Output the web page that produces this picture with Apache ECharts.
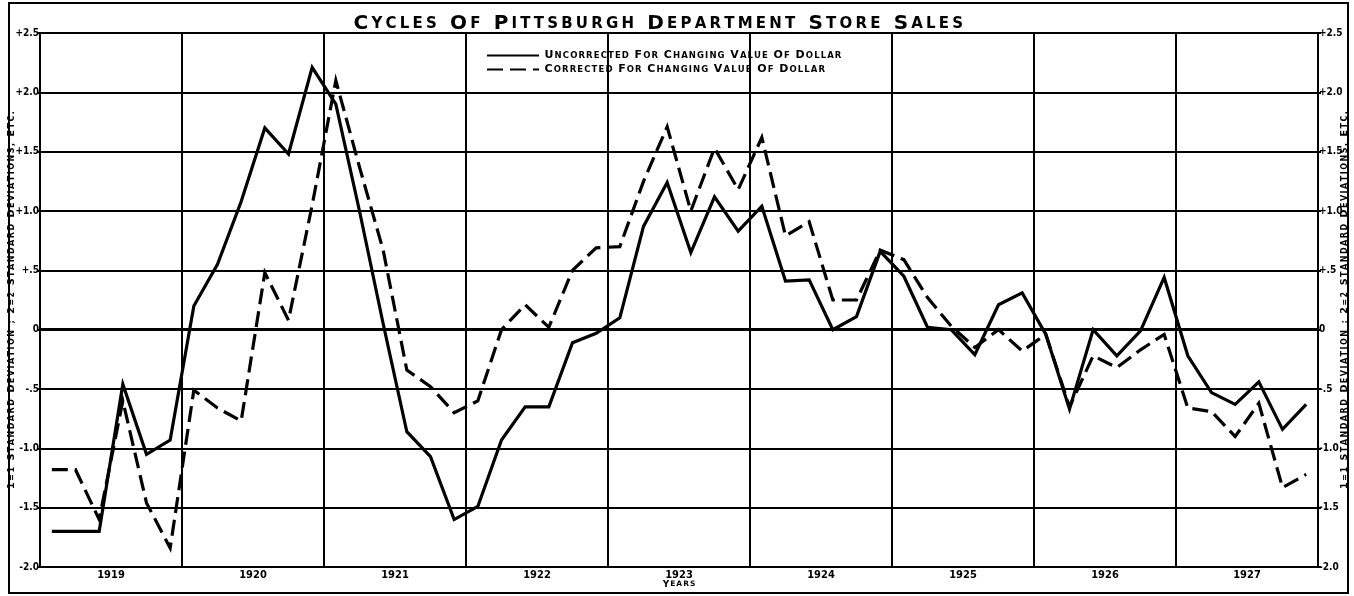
<!DOCTYPE html>
<html>
<head>
<meta charset="utf-8">
<script src="https://cdn.jsdelivr.net/npm/echarts@6.0.0/dist/echarts.min.js"></script>
<style>
  html, body { margin: 0; padding: 0; background: #fff; }
  #chart { width: 1354px; height: 596px; }
</style>
</head>
<body>
<div id="chart"></div>
<script>
// years shown on the axis, each split into six two-month periods
const years = ["1919", "1920", "1921", "1922", "1923", "1924", "1925", "1926", "1927"]
const months = ["Jan", "Mar", "May", "Jul", "Sep", "Nov"]
const periods = years.flatMap(y => months.map(m => m + " " + y))

const seriesNames = [
  "Uncorrected For Changing Value of Dollar",
  "Corrected For Changing Value of Dollar"
]

// standard deviations from trend
const uncorrected = [
  -1.70, -1.70, -1.70, -0.46, -1.05, -0.93,
  0.20, 0.55, 1.08, 1.70, 1.48, 2.21,
  1.90, 1.00, 0.05, -0.86, -1.07, -1.60,
  -1.49, -0.93, -0.65, -0.65, -0.11, -0.03,
  0.10, 0.87, 1.24, 0.65, 1.12, 0.83,
  1.04, 0.41, 0.42, 0.00, 0.11, 0.66,
  0.45, 0.02, 0.00, -0.21, 0.21, 0.31,
  -0.04, -0.67, 0.00, -0.22, -0.01, 0.44,
  -0.22, -0.53, -0.63, -0.44, -0.84, -0.63
]
const corrected = [
  -1.18, -1.18, -1.60, -0.60, -1.46, -1.84,
  -0.51, -0.66, -0.77, 0.48, 0.08, 1.05,
  2.10, 1.37, 0.67, -0.34, -0.48, -0.70,
  -0.60, 0.00, 0.21, 0.02, 0.50, 0.69,
  0.70, 1.25, 1.71, 1.00, 1.53, 1.18,
  1.62, 0.79, 0.91, 0.25, 0.25, 0.67,
  0.59, 0.27, 0.03, -0.15, 0.00, -0.18,
  -0.04, -0.65, -0.22, -0.32, -0.17, -0.04,
  -0.66, -0.69, -0.90, -0.62, -1.33, -1.22
]

const yMin = -2
const yMax = 2.5
const yStep = 0.5
const yTickLabels = ["-2.0", "-1.5", "-1.0", "-.5", "0", "+.5", "+1.0", "+1.5", "+2.0", "+2.5"]

const titleText = "Cycles of Pittsburgh Department Store Sales"
const yName = "1=1 Standard Deviation ; 2=2 Standard Deviations, Etc."
const xName = "Years"

const FONT = "DejaVu Sans"
const COND = "DejaVu Sans Condensed"

// hand-lettered plate uses small caps, letters spaced out
const smallCaps = str =>
  str.split(" ").map(w => {
    const up = w.toUpperCase()
    return up.split("").map((ch, i) => {
      const big = i === 0 && /[A-Z0-9]/.test(ch)
      return `{${big ? "B" : "S"}|${ch}}`
    }).join("")
  }).join("{W| }")

const capsRich = (big, small, pad) => ({
  B: { fontFamily: FONT, fontWeight: "bold", fontSize: big, color: "#000", padding: [0, pad] },
  S: { fontFamily: FONT, fontWeight: "bold", fontSize: small, color: "#000", padding: [0, pad] },
  W: { fontFamily: FONT, fontWeight: "bold", fontSize: small, color: "#000", padding: [0, pad * 1.5] }
})

const yLabel = v => yTickLabels[Math.round((v - yMin) / yStep)]

const chart = echarts.init(document.getElementById("chart"))

const tickLabelStyle = {
  formatter: yLabel,
  color: "#000",
  fontFamily: COND,
  fontWeight: "bold",
  fontSize: 10,
  margin: 1
}

const yNameStyle = {
  name: smallCaps(yName),
  nameLocation: "middle",
  nameRotate: 90,
  nameMoveOverlap: false,
  nameTextStyle: { rich: capsRich(9.5, 8, 0.75) }
}

chart.setOption({
  backgroundColor: "#fff",
  animation: false,
  title: {
    text: smallCaps(titleText),
    left: 347,
    top: 9,
    textStyle: { rich: capsRich(20, 15, 1.6) }
  },
  legend: {
    data: seriesNames,
    orient: "vertical",
    left: 481,
    top: 45,
    itemWidth: 52,
    itemHeight: 8,
    itemGap: 3,
    itemStyle: { opacity: 0 },
    formatter: n => smallCaps(n),
    textStyle: { rich: capsRich(11, 8.5, 0.55) }
  },
  grid: {
    left: 40,
    right: 36,
    top: 33,
    bottom: 29,
    show: true,
    borderColor: "#000",
    borderWidth: 2,
    containLabel: false,
    outerBoundsMode: "none"
  },
  xAxis: [
    {
      type: "category",
      data: years,
      boundaryGap: true,
      axisLine: { show: false },
      axisTick: { show: false },
      axisLabel: {
        color: "#000",
        fontFamily: COND,
        fontWeight: "bold",
        fontSize: 11,
        margin: 3
      },
      splitLine: { show: true, lineStyle: { color: "#000", width: 2 } },
      name: smallCaps(xName),
      nameLocation: "middle",
      nameGap: 13,
      nameMoveOverlap: false,
      nameTextStyle: { rich: capsRich(9, 7.5, 0.5) }
    },
    {
      type: "category",
      data: periods,
      boundaryGap: true,
      show: false
    }
  ],
  yAxis: [
    {
      type: "value",
      min: yMin,
      max: yMax,
      interval: yStep,
      position: "left",
      axisLine: { show: false },
      axisTick: { show: true, length: 3, lineStyle: { color: "#000", width: 2 } },
      axisLabel: tickLabelStyle,
      splitLine: { show: true, lineStyle: { color: "#000", width: 2 } },
      nameGap: 23,
      ...yNameStyle
    },
    {
      type: "value",
      min: yMin,
      max: yMax,
      interval: yStep,
      position: "right",
      axisLine: { show: false },
      axisTick: { show: true, length: 3, lineStyle: { color: "#000", width: 2 } },
      axisLabel: tickLabelStyle,
      splitLine: { show: false },
      nameGap: 22,
      ...yNameStyle
    }
  ],
  series: [
    {
      name: seriesNames[0],
      type: "line",
      xAxisIndex: 1,
      yAxisIndex: 0,
      data: uncorrected,
      symbol: "none",
      lineStyle: { color: "#000", width: 3.2, type: "solid", join: "miter" },
      itemStyle: { color: "#000" },
      z: 5,
      markLine: {
        silent: true,
        symbol: "none",
        label: { show: false },
        lineStyle: { color: "#000", width: 3, type: "solid" },
        data: [{ yAxis: 0 }]
      }
    },
    {
      name: seriesNames[1],
      type: "line",
      xAxisIndex: 1,
      yAxisIndex: 0,
      data: corrected,
      symbol: "none",
      lineStyle: { color: "#000", width: 3.2, type: [16, 7], join: "miter" },
      itemStyle: { color: "#000" },
      z: 4
    }
  ],
  graphic: [
    {
      type: "rect",
      shape: { x: 9, y: 3, width: 1339, height: 590 },
      style: { fill: null, stroke: "#000", lineWidth: 2 },
      silent: true
    }
  ]
})

window.addEventListener("resize", () => chart.resize())
</script>
</body>
</html>
